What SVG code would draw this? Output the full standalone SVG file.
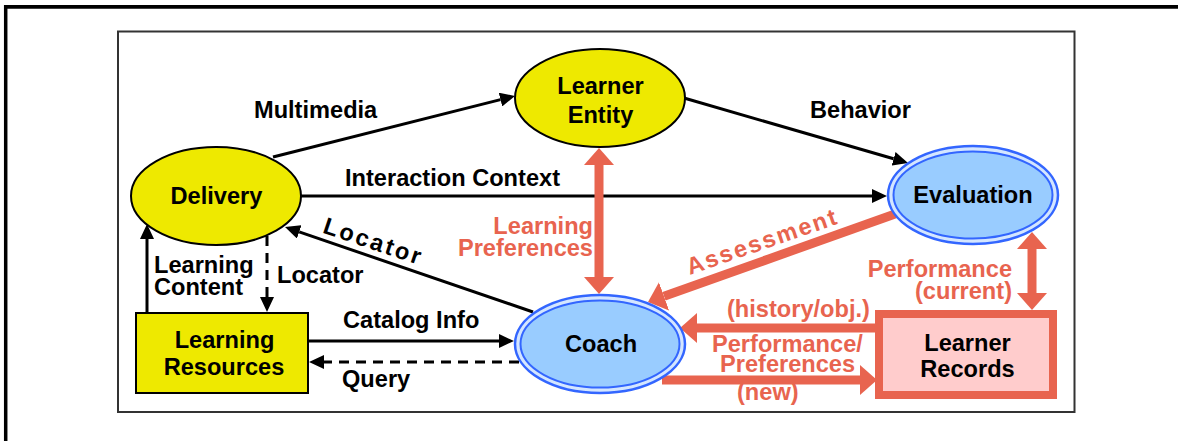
<svg xmlns="http://www.w3.org/2000/svg" width="1178" height="441" viewBox="0 0 1178 441">
  <style>
    text { font-family: "Liberation Sans", Arial, sans-serif; font-weight: bold; font-size: 23.6px; fill: #000; }
    .red { fill: #E8644F; }
    .mid { text-anchor: middle; }
    .end { text-anchor: end; }
    .blk { stroke: #000; stroke-width: 3; fill: none; }
    .dash { stroke-dasharray: 10 7; }
    .rl { stroke: #E8644F; stroke-width: 9; fill: none; }
    .yellow { fill: #EEE900; stroke: #000; stroke-width: 2; }
    .blueOuter { fill: #D4E6FF; stroke: #3366FF; stroke-width: 2.5; }
    .blueInner { fill: #99CCFF; stroke: #3366FF; stroke-width: 2; }
  </style>
  <defs>
    <marker id="ab" markerUnits="userSpaceOnUse" viewBox="0 0 15 14" refX="0" refY="7" markerWidth="15" markerHeight="14" orient="auto-start-reverse">
      <path d="M0,0 L15,7 L0,14 z" fill="#000"/>
    </marker>
    <marker id="ar" markerUnits="userSpaceOnUse" viewBox="0 0 17 30" refX="0" refY="15" markerWidth="17" markerHeight="30" orient="auto-start-reverse">
      <path d="M0,0 L17,15 L0,30 z" fill="#E8644F"/>
    </marker>
  </defs>

  <rect width="1178" height="441" fill="#fff"/>
  <!-- outer frame lines -->
  <line x1="4" y1="6.8" x2="1178" y2="6.8" stroke="#000" stroke-width="3.7"/>
  <line x1="5.7" y1="5" x2="5.7" y2="441" stroke="#000" stroke-width="3.5"/>
  <!-- inner frame -->
  <rect x="118" y="31.5" width="956.5" height="380.5" fill="none" stroke="#333" stroke-width="2"/>

  <g id="connectors">
    <!-- Multimedia -->
    <line class="blk" x1="273" y1="157" x2="500.5" y2="99.6" marker-end="url(#ab)"/>
    <text x="254" y="118">Multimedia</text>
    <!-- Behavior -->
    <line class="blk" x1="684" y1="98" x2="893.6" y2="158.8" marker-end="url(#ab)"/>
    <text x="810" y="118">Behavior</text>
    <!-- Interaction Context -->
    <line class="blk" x1="301" y1="196" x2="872" y2="196" marker-end="url(#ab)"/>
    <text x="345" y="186">Interaction Context</text>
    <!-- Locator diagonal -->
    <line class="blk" x1="533" y1="312" x2="299.2" y2="231.9" marker-end="url(#ab)"/>
    <text class="mid" x="371" y="249" letter-spacing="2.5" transform="rotate(18.5 371 249)">Locator</text>
    <!-- Locator dashed -->
    <line class="blk dash" x1="267" y1="236" x2="267" y2="297" marker-end="url(#ab)"/>
    <text x="277" y="283">Locator</text>
    <!-- Learning Content -->
    <line class="blk" x1="147" y1="312" x2="147" y2="239" marker-end="url(#ab)"/>
    <text x="154" y="273">Learning</text>
    <text x="154" y="295">Content</text>
    <!-- Catalog Info -->
    <line class="blk" x1="309" y1="341" x2="499" y2="341" marker-end="url(#ab)"/>
    <text x="343" y="328">Catalog Info</text>
    <!-- Query -->
    <line class="blk dash" x1="519" y1="362" x2="324" y2="362" marker-end="url(#ab)"/>
    <text x="342" y="387">Query</text>

    <!-- Learning Preferences (double) -->
    <line class="rl" x1="599" y1="165" x2="599" y2="277" marker-start="url(#ar)" marker-end="url(#ar)"/>
    <text class="red end" x="593" y="234">Learning</text>
    <text class="red end" x="593" y="256">Preferences</text>
    <!-- Assessment -->
    <line class="rl" x1="895" y1="214" x2="664" y2="296.3" marker-end="url(#ar)"/>
    <text class="red mid" x="765" y="249" letter-spacing="2" transform="rotate(-19 765 249)">Assessment</text>
    <!-- Performance (current) -->
    <line class="rl" x1="1032" y1="249" x2="1032" y2="293" marker-start="url(#ar)" marker-end="url(#ar)"/>
    <text class="red end" x="1012" y="277">Performance</text>
    <text class="red end" x="1012" y="299">(current)</text>
    <!-- history/obj -->
    <line class="rl" x1="876" y1="328" x2="697" y2="328" marker-end="url(#ar)"/>
    <text class="red" x="727" y="317">(history/obj.)</text>
    <!-- new -->
    <line class="rl" x1="662" y1="380" x2="860" y2="380" marker-end="url(#ar)"/>
    <text class="red" x="712" y="352">Performance/</text>
    <text class="red" x="720" y="372">Preferences</text>
    <text class="red" x="737" y="400">(new)</text>
  </g>

  <g id="delivery">
    <ellipse class="yellow" cx="216" cy="196" rx="85" ry="49"/>
    <text class="mid" x="216.5" y="204">Delivery</text>
  </g>
  <g id="learner-entity">
    <ellipse class="yellow" cx="600" cy="98" rx="85" ry="49"/>
    <text class="mid" x="600.5" y="94">Learner</text>
    <text class="mid" x="600.5" y="123">Entity</text>
  </g>
  <g id="evaluation">
    <ellipse class="blueOuter" cx="973" cy="195" rx="85" ry="49"/>
    <ellipse class="blueInner" cx="973" cy="195" rx="79.5" ry="43.5"/>
    <text class="mid" x="973" y="203">Evaluation</text>
  </g>
  <g id="coach">
    <ellipse class="blueOuter" cx="600" cy="344" rx="85" ry="49"/>
    <ellipse class="blueInner" cx="600" cy="344" rx="79.5" ry="43.5"/>
    <text class="mid" x="601" y="352">Coach</text>
  </g>
  <g id="learning-resources">
    <rect class="yellow" x="136" y="313" width="172" height="80"/>
    <text class="mid" x="224.5" y="348">Learning</text>
    <text class="mid" x="224" y="375">Resources</text>
  </g>
  <g id="learner-records">
    <rect x="879" y="314" width="174" height="81" fill="#FFCCCC" stroke="#E8644F" stroke-width="8"/>
    <text class="mid" x="967.5" y="351">Learner</text>
    <text class="mid" x="967.5" y="377">Records</text>
  </g>
</svg>
